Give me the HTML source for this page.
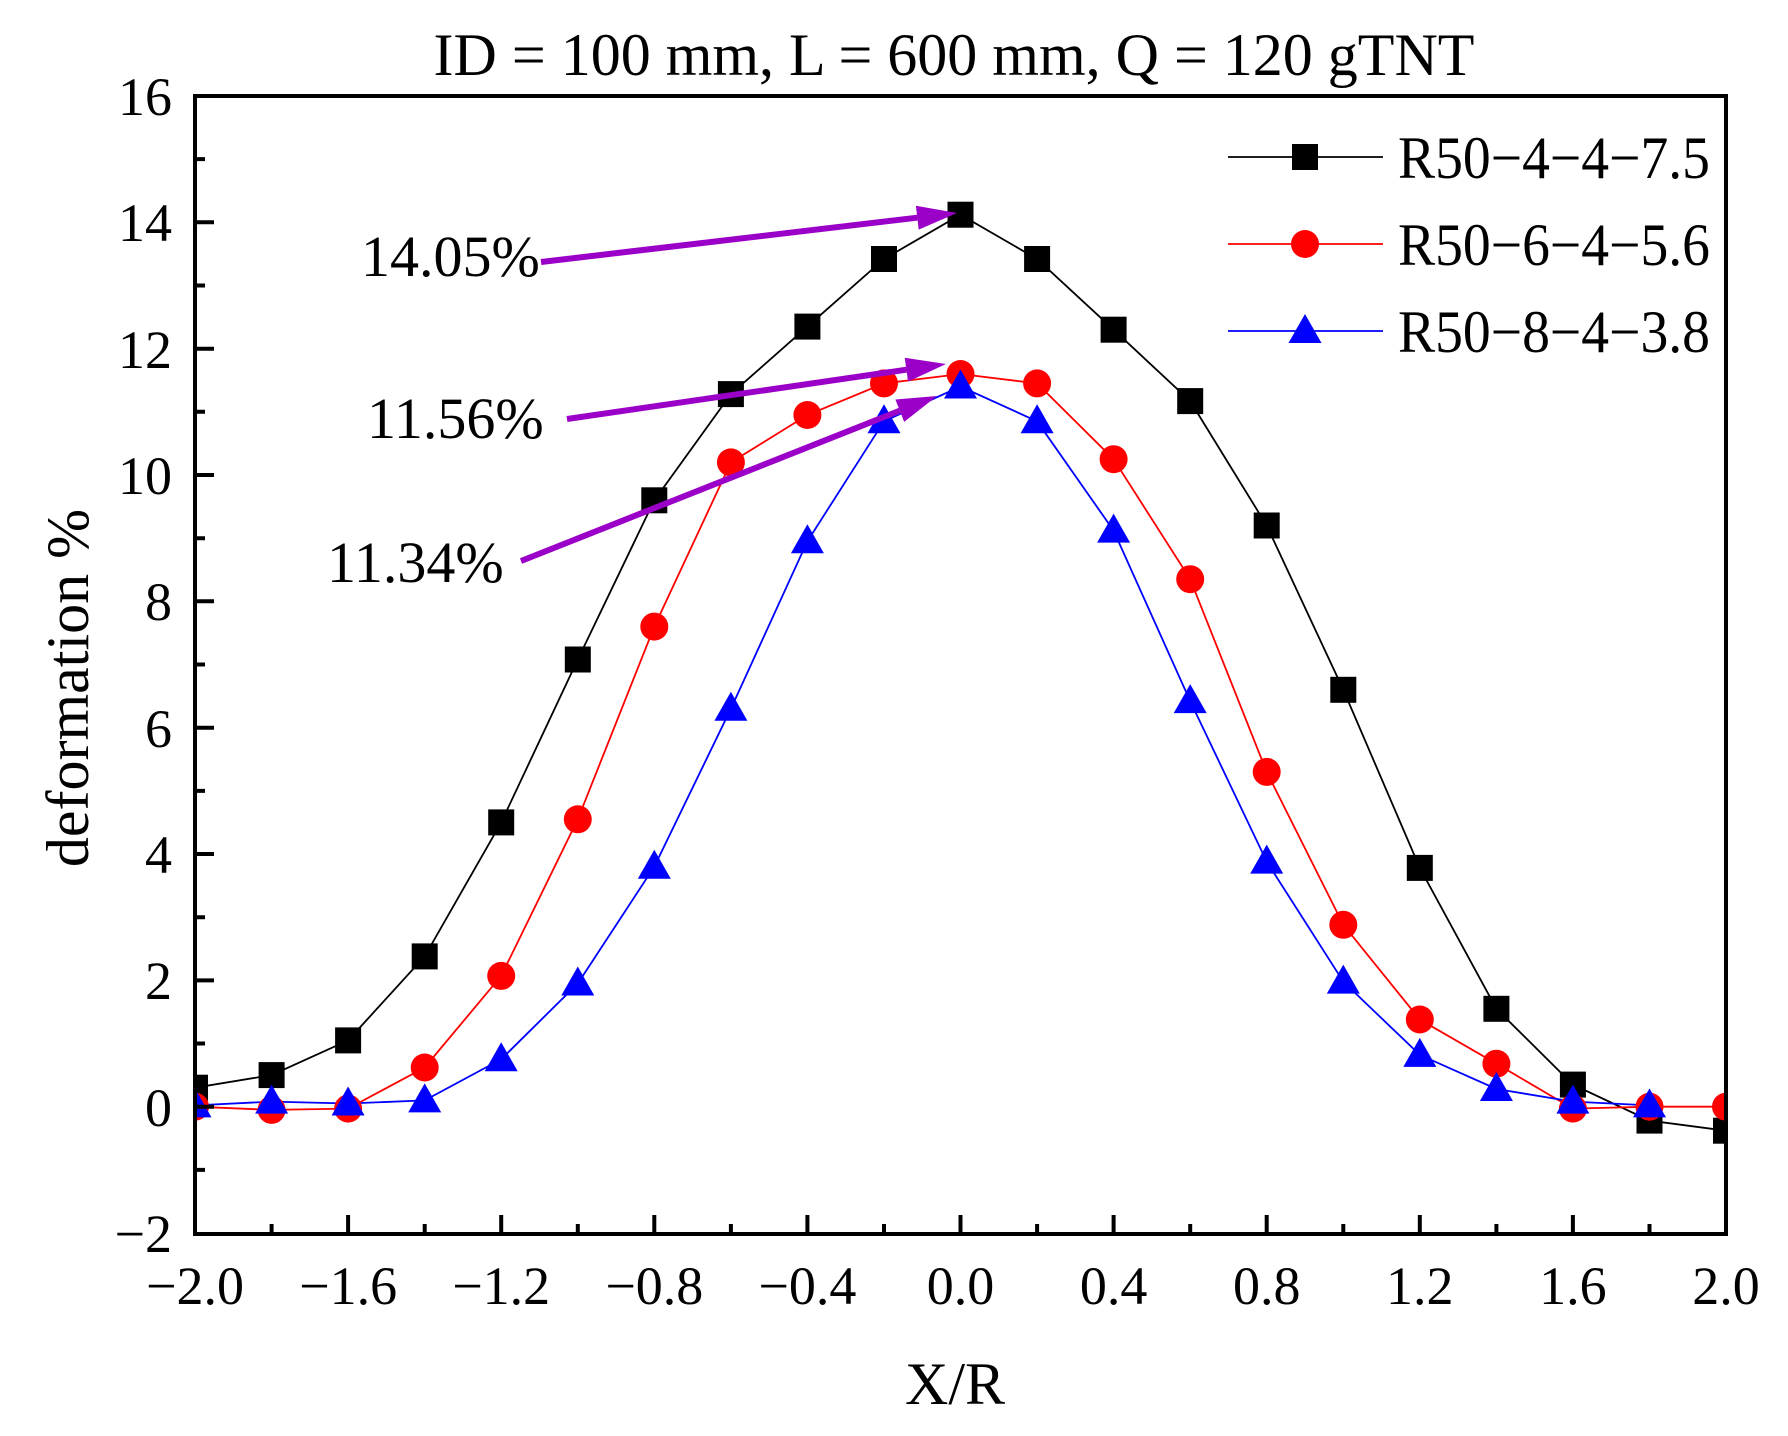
<!DOCTYPE html>
<html><head><meta charset="utf-8"><style>body{margin:0;background:#fff}svg{display:block}</style></head><body>
<svg width="1788" height="1436" viewBox="0 0 1788 1436" xmlns="http://www.w3.org/2000/svg" font-family="'Liberation Serif', serif">
<defs>
<clipPath id="c"><rect x="195" y="96" width="1531" height="1138"/></clipPath>
<rect id="sq" x="-13" y="-13" width="26" height="26" fill="#000"/>
<circle id="ci" r="14" fill="#f00"/>
<polygon id="tr" points="0,-17 -16.5,12 16.5,12" fill="#00f"/>
</defs>
<text x="954" y="75" font-size="60" text-anchor="middle">ID = 100 mm, L = 600 mm, Q = 120 gTNT</text>
<g clip-path="url(#c)">
<polyline fill="none" stroke="#000" stroke-width="1.8" points="195,1087.7 271.6,1075.1 348.1,1040.4 424.7,956.4 501.2,822.4 577.8,659.5 654.3,500.3 730.9,394.1 807.4,326.6 884,259 960.5,214.7 1037.1,259 1113.6,329.7 1190.2,401.1 1266.7,525.5 1343.3,689.8 1419.8,867.9 1496.4,1008.8 1572.9,1084.6 1649.5,1120.6 1726,1130.7"/>
<polyline fill="none" stroke="#f00" stroke-width="1.8" points="195,1106.7 271.6,1109.9 348.1,1108.6 424.7,1067.5 501.2,975.9 577.8,819.3 654.3,626.6 730.9,462.4 807.4,415 884,383.4 960.5,374 1037.1,383.4 1113.6,459.2 1190.2,579.2 1266.7,771.9 1343.3,924.8 1419.8,1019.5 1496.4,1063.7 1572.9,1108.6 1649.5,1106.7 1726,1106.7"/>
<polyline fill="none" stroke="#00f" stroke-width="1.8" points="195,1105.4 271.6,1101.6 348.1,1103.5 424.7,1100.4 501.2,1059.3 577.8,983.5 654.3,866.7 730.9,708.7 807.4,541.3 884,421.3 960.5,386.5 1037.1,421.3 1113.6,530.6 1190.2,701.1 1266.7,861.6 1343.3,981.6 1419.8,1054.9 1496.4,1089 1572.9,1101.6 1649.5,1105.4"/>
<use href="#sq" x="195" y="1087.7"/><use href="#sq" x="271.6" y="1075.1"/><use href="#sq" x="348.1" y="1040.4"/><use href="#sq" x="424.7" y="956.4"/><use href="#sq" x="501.2" y="822.4"/><use href="#sq" x="577.8" y="659.5"/><use href="#sq" x="654.3" y="500.3"/><use href="#sq" x="730.9" y="394.1"/><use href="#sq" x="807.4" y="326.6"/><use href="#sq" x="884" y="259"/><use href="#sq" x="960.5" y="214.7"/><use href="#sq" x="1037.1" y="259"/><use href="#sq" x="1113.6" y="329.7"/><use href="#sq" x="1190.2" y="401.1"/><use href="#sq" x="1266.7" y="525.5"/><use href="#sq" x="1343.3" y="689.8"/><use href="#sq" x="1419.8" y="867.9"/><use href="#sq" x="1496.4" y="1008.8"/><use href="#sq" x="1572.9" y="1084.6"/><use href="#sq" x="1649.5" y="1120.6"/><use href="#sq" x="1726" y="1130.7"/>
<use href="#ci" x="195" y="1106.7"/><use href="#ci" x="271.6" y="1109.9"/><use href="#ci" x="348.1" y="1108.6"/><use href="#ci" x="424.7" y="1067.5"/><use href="#ci" x="501.2" y="975.9"/><use href="#ci" x="577.8" y="819.3"/><use href="#ci" x="654.3" y="626.6"/><use href="#ci" x="730.9" y="462.4"/><use href="#ci" x="807.4" y="415"/><use href="#ci" x="884" y="383.4"/><use href="#ci" x="960.5" y="374"/><use href="#ci" x="1037.1" y="383.4"/><use href="#ci" x="1113.6" y="459.2"/><use href="#ci" x="1190.2" y="579.2"/><use href="#ci" x="1266.7" y="771.9"/><use href="#ci" x="1343.3" y="924.8"/><use href="#ci" x="1419.8" y="1019.5"/><use href="#ci" x="1496.4" y="1063.7"/><use href="#ci" x="1572.9" y="1108.6"/><use href="#ci" x="1649.5" y="1106.7"/><use href="#ci" x="1726" y="1106.7"/>
<use href="#tr" x="195" y="1105.4"/><use href="#tr" x="271.6" y="1101.6"/><use href="#tr" x="348.1" y="1103.5"/><use href="#tr" x="424.7" y="1100.4"/><use href="#tr" x="501.2" y="1059.3"/><use href="#tr" x="577.8" y="983.5"/><use href="#tr" x="654.3" y="866.7"/><use href="#tr" x="730.9" y="708.7"/><use href="#tr" x="807.4" y="541.3"/><use href="#tr" x="884" y="421.3"/><use href="#tr" x="960.5" y="386.5"/><use href="#tr" x="1037.1" y="421.3"/><use href="#tr" x="1113.6" y="530.6"/><use href="#tr" x="1190.2" y="701.1"/><use href="#tr" x="1266.7" y="861.6"/><use href="#tr" x="1343.3" y="981.6"/><use href="#tr" x="1419.8" y="1054.9"/><use href="#tr" x="1496.4" y="1089"/><use href="#tr" x="1572.9" y="1101.6"/><use href="#tr" x="1649.5" y="1105.4"/>
</g>
<g stroke="#9b00c8" stroke-width="6">
<line x1="541" y1="262" x2="917.3" y2="217.7"/>
<line x1="567" y1="419" x2="906.4" y2="369.7"/>
<line x1="521" y1="561" x2="899.8" y2="410.7"/>
</g>
<g fill="#9b00c8">
<polygon points="957,213 918.7,229.6 915.9,205.8"/>
<polygon points="946,364 908.1,381.6 904.7,357.8"/>
<polygon points="937,396 904.2,421.9 895.4,399.5"/>
</g>
<g font-size="58"><text x="361" y="276">14.05%</text><text x="367" y="438">11.56%</text><text x="327" y="582">11.34%</text></g>
<rect x="195" y="96" width="1531" height="1138" fill="none" stroke="#000" stroke-width="4"/>
<path stroke="#000" stroke-width="4" fill="none" d="M195,1234v-19M271.6,1234v-10M348.1,1234v-19M424.7,1234v-10M501.2,1234v-19M577.8,1234v-10M654.3,1234v-19M730.9,1234v-10M807.4,1234v-19M884,1234v-10M960.5,1234v-19M1037.1,1234v-10M1113.6,1234v-19M1190.2,1234v-10M1266.7,1234v-19M1343.3,1234v-10M1419.8,1234v-19M1496.4,1234v-10M1572.9,1234v-19M1649.5,1234v-10
M195,1169.9h10M195,1106.7h19M195,1043.5h10M195,980.4h19M195,917.2h10M195,854h19M195,790.9h10M195,727.7h19M195,664.5h10M195,601.3h19M195,538.2h10M195,475h19M195,411.8h10M195,348.7h19M195,285.5h10M195,222.3h19M195,159.1h10"/>
<g font-size="54" text-anchor="middle">
<text x="195" y="1304">−2.0</text><text x="348.1" y="1304">−1.6</text><text x="501.2" y="1304">−1.2</text><text x="654.3" y="1304">−0.8</text><text x="807.4" y="1304">−0.4</text><text x="960.5" y="1304">0.0</text><text x="1113.6" y="1304">0.4</text><text x="1266.7" y="1304">0.8</text><text x="1419.8" y="1304">1.2</text><text x="1572.9" y="1304">1.6</text><text x="1726" y="1304">2.0</text>
</g>
<g font-size="54" text-anchor="end">
<text x="172" y="1252">−2</text><text x="172" y="1126">0</text><text x="172" y="999">2</text><text x="172" y="873">4</text><text x="172" y="747">6</text><text x="172" y="620">8</text><text x="172" y="494">10</text><text x="172" y="368">12</text><text x="172" y="241">14</text><text x="172" y="115">16</text>
</g>
<text x="955" y="1404" font-size="60" text-anchor="middle">X/R</text>
<text transform="translate(88,688) rotate(-90)" font-size="60" text-anchor="middle">deformation %</text>
<line x1="1228" y1="157" x2="1383" y2="157" stroke="#000" stroke-width="1.8"/><use href="#sq" x="1305" y="157"/><text x="1398" y="178" font-size="60" textLength="312" lengthAdjust="spacingAndGlyphs">R50−4−4−7.5</text>
<line x1="1228" y1="244" x2="1383" y2="244" stroke="#f00" stroke-width="1.8"/><use href="#ci" x="1305" y="244"/><text x="1398" y="265" font-size="60" textLength="312" lengthAdjust="spacingAndGlyphs">R50−6−4−5.6</text>
<line x1="1228" y1="331" x2="1383" y2="331" stroke="#00f" stroke-width="1.8"/><use href="#tr" x="1305" y="331"/><text x="1398" y="352" font-size="60" textLength="312" lengthAdjust="spacingAndGlyphs">R50−8−4−3.8</text>
</svg>
</body></html>
